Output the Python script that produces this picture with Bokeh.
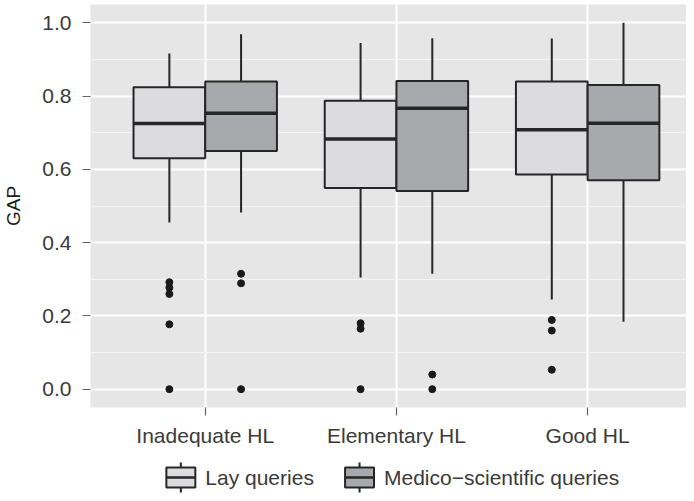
from bokeh.plotting import figure
from bokeh.layouts import column
from bokeh.models import (ColumnDataSource, Range1d, FixedTicker, SingleIntervalTicker,
                          PrintfTickFormatter)
from bokeh.core.properties import value
from bokeh.transform import dodge
from bokeh.embed import file_html
from bokeh.resources import INLINE

# ---------------- data ----------------
categories = ["Inadequate HL", "Elementary HL", "Good HL"]
series_names = ["Lay queries", "Medico\u2212scientific queries"]

lay_upper = [0.916, 0.945, 0.957]
lay_q3 = [0.824, 0.787, 0.840]
lay_median = [0.725, 0.683, 0.708]
lay_q1 = [0.630, 0.549, 0.586]
lay_lower = [0.455, 0.305, 0.245]
lay_outliers = [[0.292, 0.277, 0.260, 0.177, 0.0], [0.180, 0.165, 0.0], [0.189, 0.160, 0.053]]

med_upper = [0.969, 0.958, 1.0]
med_q3 = [0.840, 0.841, 0.830]
med_median = [0.753, 0.767, 0.726]
med_q1 = [0.650, 0.541, 0.570]
med_lower = [0.482, 0.315, 0.184]
med_outliers = [[0.315, 0.289, 0.0], [0.040, 0.0], []]

# ---------------- style ----------------
FONT = "Liberation Sans"
PANEL_BG = "#E6E6E7"
LAY_FILL = "#DCDCDE"
MED_FILL = "#A8A9AC"
LINE = "#262626"
TEXT = "#3A3A3A"
FS = "21px"
BOX_W = 0.375
W = 686
H = 493
MAIN_H = 455
LEFT = 89

positions = list(range(1, len(categories) + 1))

p = figure(width=W, height=MAIN_H, output_backend="svg", toolbar_location=None,
           x_range=Range1d(0.4, 3.517), y_range=Range1d(-0.05, 1.05),
           min_border_left=LEFT, min_border_right=0, min_border_top=4, min_border_bottom=48)
p.outline_line_color = None
p.background_fill_color = PANEL_BG
p.border_fill_color = "white"

def add_series(upper, q3, median, q1, lower, outliers, offset, fill):
    src = ColumnDataSource(dict(pos=positions, upper=upper, q3=q3, median=median,
                                q1=q1, lower=lower))
    xc = dodge("pos", offset, range=p.x_range)
    p.segment(x0=xc, x1=xc, y0="lower", y1="upper", source=src,
              line_color=LINE, line_width=2)
    p.vbar(x=xc, width=BOX_W, top="q3", bottom="q1", source=src,
           fill_color=fill, line_color=LINE, line_width=2)
    p.segment(x0=dodge("pos", offset - BOX_W / 2, range=p.x_range),
              x1=dodge("pos", offset + BOX_W / 2, range=p.x_range),
              y0="median", y1="median", source=src,
              line_color=LINE, line_width=3.5)
    ox, oy = [], []
    for ps, vals in zip(positions, outliers):
        for v in vals:
            ox.append(ps)
            oy.append(v)
    osrc = ColumnDataSource(dict(pos=ox, val=oy))
    p.scatter(x=dodge("pos", offset, range=p.x_range), y="val", source=osrc,
              size=7, fill_color="#1A1A1A", line_color="#1A1A1A")

add_series(lay_upper, lay_q3, lay_median, lay_q1, lay_lower, lay_outliers, -BOX_W / 2, LAY_FILL)
add_series(med_upper, med_q3, med_median, med_q1, med_lower, med_outliers, BOX_W / 2, MED_FILL)

# ---------------- axes ----------------
p.xaxis.ticker = FixedTicker(ticks=positions)
p.xaxis.major_label_overrides = {ps: c for ps, c in zip(positions, categories)}
p.yaxis.ticker = SingleIntervalTicker(interval=0.2, num_minor_ticks=2)
p.yaxis.formatter = PrintfTickFormatter(format="%.1f")
p.yaxis.axis_label = "GAP"

for ax in (p.xaxis[0], p.yaxis[0]):
    ax.axis_line_color = None
    ax.major_tick_line_color = "#666666"
    ax.major_tick_line_width = 1.2
    ax.major_tick_out = 8
    ax.major_tick_in = 0
    ax.minor_tick_line_color = None
    ax.major_label_text_font = FONT
    ax.major_label_text_font_size = FS
    ax.major_label_text_color = TEXT
    ax.axis_label_text_font = FONT
    ax.axis_label_text_font_size = "19px"
    ax.axis_label_text_font_style = "normal"
    ax.axis_label_text_color = "#1A1A1A"
    ax.axis_label_standoff = 15
p.xaxis.major_label_standoff = 8
p.yaxis.major_label_standoff = 11

p.xgrid.ticker = FixedTicker(ticks=positions)
p.xgrid.grid_line_color = "white"
p.xgrid.grid_line_width = 2
p.ygrid.grid_line_color = "white"
p.ygrid.grid_line_width = 2
p.ygrid.minor_grid_line_color = "#F3F3F3"
p.ygrid.minor_grid_line_width = 1

# ---------------- legend (own strip; x and y in strip pixels) ----------------
LH = H - MAIN_H
lg = figure(width=W, height=LH, output_backend="svg", toolbar_location=None,
            x_range=Range1d(LEFT, W), y_range=Range1d(0, LH),
            min_border_left=LEFT, min_border_right=0, min_border_top=0, min_border_bottom=0)
lg.axis.visible = False
lg.grid.visible = False
lg.outline_line_color = None
lg.background_fill_color = "white"

key_left = [165, 344]
key_w = 29
box_bottom, box_top = 6, 26
stub_bottom, stub_top = 1, 31
fills = [LAY_FILL, MED_FILL]
kx0 = key_left
kx1 = [k + key_w for k in key_left]
kxm = [k + key_w / 2 for k in key_left]
mid = (box_bottom + box_top) / 2
lg.segment(x0=kxm, x1=kxm, y0=[stub_bottom] * 2, y1=[stub_top] * 2,
           line_color=LINE, line_width=2)
lg.quad(left=kx0, right=kx1, bottom=[box_bottom] * 2, top=[box_top] * 2,
        fill_color=fills, line_color=LINE, line_width=2)
lg.segment(x0=kx0, x1=kx1, y0=[mid] * 2, y1=[mid] * 2, line_color=LINE, line_width=2.5)
lg.text(x=[k + key_w + 10 for k in key_left], y=[mid] * 2,
        text=series_names, text_font=value(FONT), text_font_size=FS,
        text_color=TEXT, text_baseline="middle", text_align="left")

layout = column(p, lg, spacing=0)
open("out.html", "w").write(file_html(layout, INLINE))
